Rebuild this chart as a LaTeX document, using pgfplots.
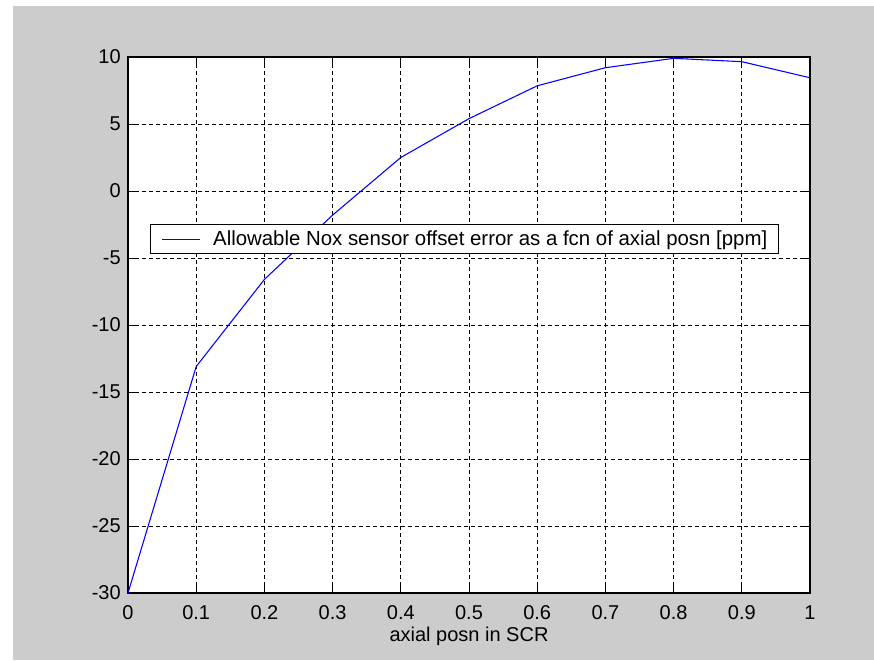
\documentclass[border=0pt]{standalone}
\usepackage{fontspec}
\setmainfont{Liberation Sans}
\usepackage{pgfplots}
\pgfplotsset{compat=1.18}
\definecolor{figgrey}{RGB}{204,204,204}
\definecolor{mblue}{RGB}{0,0,255}
\begin{document}
\begin{tikzpicture}
\path[use as bounding box, fill=white] (0,0) rectangle (655.5pt,495pt);
\fill[figgrey] (9.75pt,0) rectangle (655.5pt,490.5pt);
\begin{axis}[
  at={(96pt,50.25pt)}, anchor=south west,
  scale only axis, width=511.5pt, height=402pt,
  xmin=0, xmax=1, ymin=-30, ymax=10,
  xtick={0,0.1,...,1.01}, ytick={-30,-25,...,10},
  xticklabels={0,0.1,0.2,0.3,0.4,0.5,0.6,0.7,0.8,0.9,1},
  axis background/.style={fill=white},
  axis line style={black, line width=0.9pt},
  tick style={black, line width=0.6pt},
  tick align=inside, major tick length=6pt,
  xtick pos=both, ytick pos=both,
  grid=major,
  major grid style={black, line width=0.6pt, dash pattern=on 3pt off 2.25pt},
  /pgf/number format/assume math mode=true,
  tick label style={font=\fontsize{15}{18}\selectfont, inner sep=0pt},
  xticklabel style={anchor=north, yshift=-9pt},
  yticklabel style={anchor=east, xshift=-5.25pt},
  xlabel={axial posn in SCR},
  xlabel style={font=\fontsize{15}{18}\selectfont, at={(axis description cs:0.5,-0.08)}, anchor=center},
  legend style={at={(rel axis cs:0.032,0.688)}, anchor=north west, draw=black, line width=0.9pt, fill=white,
    font=\fontsize{15.3}{18}\selectfont, inner xsep=8.5pt, inner ysep=4.5pt,
    nodes={inner sep=0pt, line width=0.4pt}, column sep=9.75pt},
  legend image code/.code={\draw[#1] (0pt,0pt) -- (28pt,0pt);},
]
\addplot[mblue, line width=0.8pt] coordinates {
(0,-30) (0.1,-13.1) (0.2,-6.6) (0.3,-1.8) (0.4,2.5) (0.5,5.4) (0.6,7.85) (0.7,9.2) (0.8,9.9) (0.9,9.65) (1.0,8.45)
};
\addlegendentry{Allowable Nox sensor offset error as a fcn of axial posn [ppm]}
\end{axis}
\end{tikzpicture}
\end{document}
